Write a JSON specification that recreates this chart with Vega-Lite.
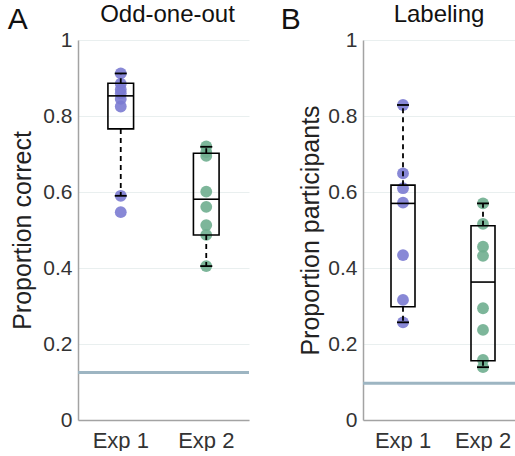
{
  "$schema": "https://vega.github.io/schema/vega-lite/v6.json",
  "padding": {"left": 7, "top": 3, "right": 0, "bottom": 0},
  "background": "white",
  "config": {
    "font": "Liberation Sans",
    "view": {"stroke": null},
    "axis": {
      "domainColor": "#a3a3a3",
      "domainWidth": 1.5,
      "gridColor": "#e9efef",
      "gridWidth": 1,
      "labelColor": "#333333",
      "labelFontSize": 21,
      "titleColor": "#222222",
      "titleFontSize": 25,
      "titleFontWeight": "normal",
      "ticks": false
    },
    "title": {"fontWeight": "normal", "color": "#111111"}
  },
  "datasets": {
    "points": [
      {"task": "A", "exp": "Exp 1", "value": 0.912},
      {"task": "A", "exp": "Exp 1", "value": 0.885},
      {"task": "A", "exp": "Exp 1", "value": 0.87},
      {"task": "A", "exp": "Exp 1", "value": 0.86},
      {"task": "A", "exp": "Exp 1", "value": 0.845},
      {"task": "A", "exp": "Exp 1", "value": 0.825},
      {"task": "A", "exp": "Exp 1", "value": 0.59},
      {"task": "A", "exp": "Exp 1", "value": 0.547},
      {"task": "A", "exp": "Exp 2", "value": 0.72},
      {"task": "A", "exp": "Exp 2", "value": 0.705},
      {"task": "A", "exp": "Exp 2", "value": 0.695},
      {"task": "A", "exp": "Exp 2", "value": 0.601},
      {"task": "A", "exp": "Exp 2", "value": 0.561},
      {"task": "A", "exp": "Exp 2", "value": 0.513},
      {"task": "A", "exp": "Exp 2", "value": 0.487},
      {"task": "A", "exp": "Exp 2", "value": 0.405},
      {"task": "B", "exp": "Exp 1", "value": 0.829},
      {"task": "B", "exp": "Exp 1", "value": 0.649},
      {"task": "B", "exp": "Exp 1", "value": 0.61},
      {"task": "B", "exp": "Exp 1", "value": 0.572},
      {"task": "B", "exp": "Exp 1", "value": 0.434},
      {"task": "B", "exp": "Exp 1", "value": 0.316},
      {"task": "B", "exp": "Exp 1", "value": 0.257},
      {"task": "B", "exp": "Exp 2", "value": 0.57},
      {"task": "B", "exp": "Exp 2", "value": 0.516},
      {"task": "B", "exp": "Exp 2", "value": 0.456},
      {"task": "B", "exp": "Exp 2", "value": 0.432},
      {"task": "B", "exp": "Exp 2", "value": 0.294},
      {"task": "B", "exp": "Exp 2", "value": 0.237},
      {"task": "B", "exp": "Exp 2", "value": 0.158},
      {"task": "B", "exp": "Exp 2", "value": 0.139}
    ],
    "boxes": [
      {"task": "A", "exp": "Exp 1", "lo": 0.59, "q1": 0.766, "median": 0.853, "q3": 0.886, "hi": 0.912},
      {"task": "A", "exp": "Exp 2", "lo": 0.405, "q1": 0.487, "median": 0.581, "q3": 0.702, "hi": 0.719},
      {"task": "B", "exp": "Exp 1", "lo": 0.257, "q1": 0.298, "median": 0.57, "q3": 0.618, "hi": 0.829},
      {"task": "B", "exp": "Exp 2", "lo": 0.139, "q1": 0.156, "median": 0.363, "q3": 0.511, "hi": 0.57}
    ],
    "chance": [
      {"task": "A", "value": 0.125},
      {"task": "B", "value": 0.097}
    ]
  },
  "spacing": 29,
  "hconcat": [
    {
      "title": {"text": "A", "anchor": "start", "frame": "bounds", "fontSize": 30, "dy": 36, "dx": -3},
      "hconcat": [
        {
          "width": 171,
          "height": 380,
          "title": {"text": "Odd-one-out", "fontSize": 24, "anchor": "middle", "dx": 4, "offset": 2},
          "encoding": {
            "x": {"field": "exp", "type": "nominal", "scale": {"type": "band", "paddingInner": 0, "paddingOuter": 0, "domain": ["Exp 1", "Exp 2"]}, "axis": {"title": null, "labelAngle": 0, "labelPadding": 10, "labelFontSize": 22, "grid": false}}
          },
          "layer": [
            {
              "data": {"name": "chance"},
              "transform": [{"filter": "datum.task === 'A'"}],
              "mark": {"type": "rule", "color": "#9db5c2", "strokeWidth": 3},
              "encoding": {"x": null, "y": {"field": "value", "type": "quantitative", "scale": {"domain": [0, 1], "nice": false}, "axis": {"title": "Proportion correct", "values": [0, 0.2, 0.4, 0.6, 0.8, 1], "format": "~g", "labelPadding": 6, "titlePadding": 7}}}
            },
            {
              "data": {"name": "points"},
              "transform": [{"filter": "datum.task === 'A'"}],
              "mark": {"type": "circle", "size": 140, "opacity": 0.9},
              "encoding": {
                "y": {"field": "value", "type": "quantitative"},
                "color": {"field": "exp", "type": "nominal", "scale": {"domain": ["Exp 1", "Exp 2"], "range": ["#7b7bd2", "#6fae8f"]}, "legend": null}
              }
            },
            {
              "data": {"name": "boxes"},
              "transform": [{"filter": "datum.task === 'A'"}],
              "mark": {"type": "rule", "color": "black", "strokeWidth": 1.8, "strokeDash": [5, 4]},
              "encoding": {"y": {"field": "q3", "type": "quantitative"}, "y2": {"field": "hi"}}
            },
            {
              "data": {"name": "boxes"},
              "transform": [{"filter": "datum.task === 'A'"}],
              "mark": {"type": "rule", "color": "black", "strokeWidth": 1.8, "strokeDash": [5, 4]},
              "encoding": {"y": {"field": "q1", "type": "quantitative"}, "y2": {"field": "lo"}}
            },
            {
              "data": {"name": "boxes"},
              "transform": [{"filter": "datum.task === 'A'"}],
              "mark": {"type": "bar", "width": {"band": 0.3}, "fill": "white", "fillOpacity": 0, "stroke": "black", "strokeWidth": 1.6},
              "encoding": {"y": {"field": "q3", "type": "quantitative"}, "y2": {"field": "q1"}}
            },
            {
              "data": {"name": "boxes"},
              "transform": [{"filter": "datum.task === 'A'"}],
              "mark": {"type": "tick", "color": "black", "size": 26, "thickness": 1.6, "opacity": 1},
              "encoding": {"y": {"field": "median", "type": "quantitative"}}
            },
            {
              "data": {"name": "boxes"},
              "transform": [{"filter": "datum.task === 'A'"}],
              "mark": {"type": "tick", "color": "black", "size": 12, "thickness": 1.8, "opacity": 1},
              "encoding": {"y": {"field": "hi", "type": "quantitative"}}
            },
            {
              "data": {"name": "boxes"},
              "transform": [{"filter": "datum.task === 'A'"}],
              "mark": {"type": "tick", "color": "black", "size": 12, "thickness": 1.8, "opacity": 1},
              "encoding": {"y": {"field": "lo", "type": "quantitative"}}
            }
          ]
        }
      ]
    },
    {
      "title": {"text": "B", "anchor": "start", "frame": "bounds", "fontSize": 30, "dy": 36, "dx": -18},
      "hconcat": [
        {
          "width": 160,
          "height": 380,
          "title": {"text": "Labeling", "fontSize": 24, "anchor": "middle", "dx": -4, "offset": 2},
          "encoding": {
            "x": {"field": "exp", "type": "nominal", "scale": {"type": "band", "paddingInner": 0, "paddingOuter": 0, "domain": ["Exp 1", "Exp 2"]}, "axis": {"title": null, "labelAngle": 0, "labelPadding": 10, "labelFontSize": 22, "grid": false}}
          },
          "layer": [
            {
              "data": {"name": "chance"},
              "transform": [{"filter": "datum.task === 'B'"}],
              "mark": {"type": "rule", "color": "#9db5c2", "strokeWidth": 3},
              "encoding": {"x": null, "y": {"field": "value", "type": "quantitative", "scale": {"domain": [0, 1], "nice": false}, "axis": {"title": "Proportion participants", "values": [0, 0.2, 0.4, 0.6, 0.8, 1], "format": "~g", "labelPadding": 6, "titlePadding": 4}}}
            },
            {
              "data": {"name": "points"},
              "transform": [{"filter": "datum.task === 'B'"}],
              "mark": {"type": "circle", "size": 140, "opacity": 0.9},
              "encoding": {
                "y": {"field": "value", "type": "quantitative"},
                "color": {"field": "exp", "type": "nominal", "scale": {"domain": ["Exp 1", "Exp 2"], "range": ["#7b7bd2", "#6fae8f"]}, "legend": null}
              }
            },
            {
              "data": {"name": "boxes"},
              "transform": [{"filter": "datum.task === 'B'"}],
              "mark": {"type": "rule", "color": "black", "strokeWidth": 1.8, "strokeDash": [5, 4]},
              "encoding": {"y": {"field": "q3", "type": "quantitative"}, "y2": {"field": "hi"}}
            },
            {
              "data": {"name": "boxes"},
              "transform": [{"filter": "datum.task === 'B'"}],
              "mark": {"type": "rule", "color": "black", "strokeWidth": 1.8, "strokeDash": [5, 4]},
              "encoding": {"y": {"field": "q1", "type": "quantitative"}, "y2": {"field": "lo"}}
            },
            {
              "data": {"name": "boxes"},
              "transform": [{"filter": "datum.task === 'B'"}],
              "mark": {"type": "bar", "width": {"band": 0.3}, "fill": "white", "fillOpacity": 0, "stroke": "black", "strokeWidth": 1.6},
              "encoding": {"y": {"field": "q3", "type": "quantitative"}, "y2": {"field": "q1"}}
            },
            {
              "data": {"name": "boxes"},
              "transform": [{"filter": "datum.task === 'B'"}],
              "mark": {"type": "tick", "color": "black", "size": 24, "thickness": 1.6, "opacity": 1},
              "encoding": {"y": {"field": "median", "type": "quantitative"}}
            },
            {
              "data": {"name": "boxes"},
              "transform": [{"filter": "datum.task === 'B'"}],
              "mark": {"type": "tick", "color": "black", "size": 12, "thickness": 1.8, "opacity": 1},
              "encoding": {"y": {"field": "hi", "type": "quantitative"}}
            },
            {
              "data": {"name": "boxes"},
              "transform": [{"filter": "datum.task === 'B'"}],
              "mark": {"type": "tick", "color": "black", "size": 12, "thickness": 1.8, "opacity": 1},
              "encoding": {"y": {"field": "lo", "type": "quantitative"}}
            }
          ]
        }
      ]
    }
  ]
}
